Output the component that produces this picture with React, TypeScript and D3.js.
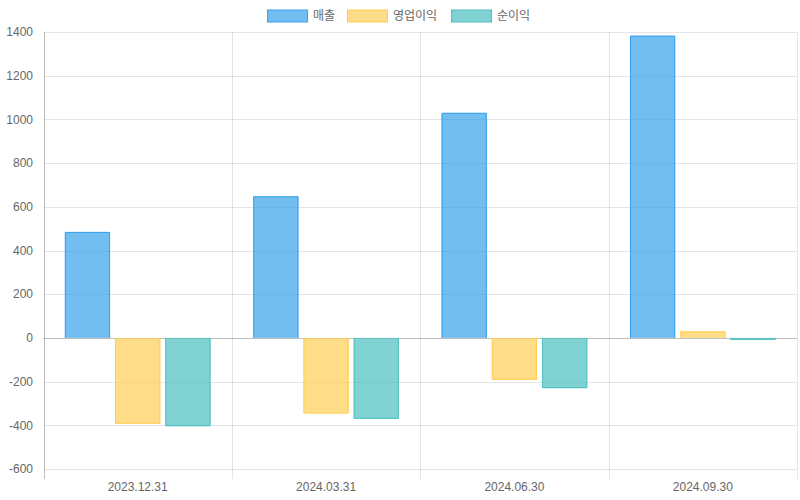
import React from "react";
import * as d3 from "d3";

const categories = ["2023.12.31", "2024.03.31", "2024.06.30", "2024.09.30"];
const seriesNames = ["매출", "영업이익", "순이익"];
const sales = [485, 648, 1030, 1383];
const operatingProfit = [-393, -346, -192, 30];
const netProfit = [-404, -370, -230, -9];
const yTicks = [-600, -400, -200, 0, 200, 400, 600, 800, 1000, 1200, 1400];

const fills = ["rgba(54,162,235,0.7)", "rgba(255,206,86,0.7)", "rgba(75,192,192,0.7)"];
const strokes = ["rgb(54,162,235)", "rgb(255,206,86)", "rgb(75,192,192)"];

const W = 800;
const H = 500;
const left = 43.5;
const right = 797;
const top = 32;
const bottom = 469;
const FONT = "'Liberation Sans', Arial, 'Noto Sans CJK KR', sans-serif";

export default function App() {
  const series = [sales, operatingProfit, netProfit];
  const x = d3.scaleBand<string>().domain(categories).range([left, right]).padding(0);
  const y = d3.scaleLinear().domain([-600, 1400]).range([bottom, top]);
  const bw = x.bandwidth();
  const inner = bw * 0.8;
  const slot = inner / series.length;
  const barW = slot * 0.9;
  const y0 = y(0);

  // legend layout
  const textW = [24, 48, 36];
  const itemW = textW.map((t) => 40 + 6 + t);
  const totalW = itemW.reduce((a, b) => a + b, 0) + 10 * (itemW.length - 1);
  let lx = (W - totalW) / 2;
  const legendItems = seriesNames.map((n, i) => {
    const pos = lx;
    lx += itemW[i] + 10;
    return { n, i, pos };
  });

  const boundaries = categories.map((c) => x(c) as number).concat([right]);

  return (
    <svg
      width={W}
      height={H}
      style={{ position: "absolute", left: 0, top: 0 }}
      fontFamily={FONT}
    >
      <rect x={0} y={0} width={W} height={H} fill="#fff" />
      {/* horizontal grid */}
      {yTicks.map((t) => {
        const yy = Math.round(y(t)) + 0.5;
        return (
          <line
            key={"h" + t}
            x1={left}
            x2={right}
            y1={yy}
            y2={yy}
            stroke={t === 0 ? "rgba(0,0,0,0.25)" : "rgba(0,0,0,0.1)"}
            strokeWidth={1}
          />
        );
      })}
      {/* vertical grid */}
      {boundaries.map((bx, i) => {
        const xx = Math.round(bx) + 0.5;
        return (
          <line
            key={"v" + i}
            x1={xx}
            x2={xx}
            y1={top}
            y2={bottom + 10}
            stroke={i === 0 ? "rgba(0,0,0,0.25)" : "rgba(0,0,0,0.1)"}
            strokeWidth={1}
          />
        );
      })}
      {/* y tick labels */}
      {yTicks.map((t) => (
        <text
          key={"yl" + t}
          x={33}
          y={y(t)}
          dy="0.35em"
          textAnchor="end"
          fontSize={12}
          fill="#666"
        >
          {t}
        </text>
      ))}
      {/* x tick labels */}
      {categories.map((c) => (
        <text
          key={"xl" + c}
          x={(x(c) as number) + bw / 2}
          y={491}
          textAnchor="middle"
          fontSize={12}
          fill="#666"
        >
          {c}
        </text>
      ))}
      {/* bars */}
      {series.map((vals, si) =>
        vals.map((v, ci) => {
          const bx0 = (x(categories[ci]) as number) + (bw - inner) / 2 + slot * si + (slot - barW) / 2;
          const yv = y(v);
          const yTop = Math.min(yv, y0);
          const h = Math.abs(yv - y0);
          const xl = bx0 + 0.5;
          const xr = bx0 + barW - 0.5;
          const yEnd = v >= 0 ? yv + 0.5 : yv - 0.5;
          return (
            <g key={"b" + si + "-" + ci}>
              <rect x={bx0} y={yTop} width={barW} height={h} fill={fills[si]} />
              <path
                d={`M${xl},${y0}L${xl},${yEnd}L${xr},${yEnd}L${xr},${y0}`}
                fill="none"
                stroke={strokes[si]}
                strokeWidth={1}
              />
            </g>
          );
        })
      )}
      {/* legend */}
      {legendItems.map(({ n, i, pos }) => (
        <g key={"lg" + i}>
          <rect
            x={pos + 0.5}
            y={10}
            width={40}
            height={12}
            fill={fills[i]}
            stroke={strokes[i]}
            strokeWidth={1}
          />
          <text x={pos + 46} y={16} dy="0.35em" fontSize={12} fill="#666">
            {n}
          </text>
        </g>
      ))}
    </svg>
  );
}
